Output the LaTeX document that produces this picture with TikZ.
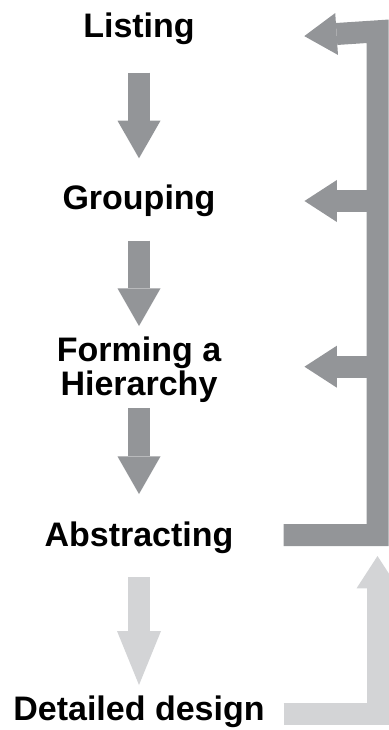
\documentclass[tikz,border=0pt]{standalone}
\usepackage{fontspec}
\setmainfont{Liberation Sans}
\usetikzlibrary{arrows.meta}

\definecolor{stepdark}{RGB}{147,149,152}
\definecolor{steplight}{RGB}{211,212,214}

\begin{document}
\begin{tikzpicture}[x=1pt, y=-1pt,
    label/.style = {font=\bfseries\fontsize{34}{33.3}\selectfont, inner sep=0pt, anchor=base, text height=27pt, text depth=5pt},
    multi/.style = {font=\bfseries\fontsize{34}{33.3}\selectfont, inner sep=0pt, anchor=base, align=center},
    down/.style = {line width=22pt, -{Triangle[length=37.6pt, width=43pt, line width=0pt]}},
    feedback/.style = {line width=22pt, line join=miter, -{Triangle[length=32.4pt, width=42pt, line width=0pt]}}]
    \useasboundingbox (0,0) rectangle (388,730);
    % steps
    \node[label] (listing) at (139,37.3) {Listing};
    \node[label] (grouping) at (139,209.3) {Grouping};
    \node[multi] (forming) at (139,395) {Forming a\\Hierarchy};
    \node[label] (abstracting) at (139,546) {Abstracting};
    \node[label] (detailed) at (139,720.7) {Detailed design};
    % points on the return bar
    \coordinate (top) at (377.5,31.3);
    \coordinate (mid1) at (377.5,201);
    \coordinate (mid2) at (377.5,366.7);
    \coordinate (uptip) at (377.5,556);
    % down arrows
    \draw[down, stepdark] ([yshift=-35.4pt]listing.base) -- ([yshift=51pt]grouping.base);
    \draw[down, stepdark] ([yshift=-31.4pt]grouping.base) -- ([yshift=69pt]forming.base);
    \draw[down, stepdark] ([yshift=-13.3pt]forming.base) -- ([yshift=52pt]abstracting.base);
    \draw[down, steplight, -{Triangle[length=54pt, width=44pt, line width=0pt]}] ([yshift=-31.3pt]abstracting.base) -- ([yshift=35.7pt]detailed.base);
    % going back
    \draw[feedback, stepdark, shorten <=49.9pt, shorten >=109.6pt] (abstracting.east) -| (top) -- ([yshift=-6pt]listing.base east);
    \draw[feedback, stepdark, shorten >=88.8pt] (mid1) -- (mid1 -| grouping.east);
    \draw[feedback, stepdark, shorten >=83.1pt] (mid2) -- ([yshift=28.3pt]forming.base east);
    \draw[feedback, steplight, shorten <=18.7pt] ([yshift=6.8pt]detailed.base east) -| (uptip);
\end{tikzpicture}
\end{document}
